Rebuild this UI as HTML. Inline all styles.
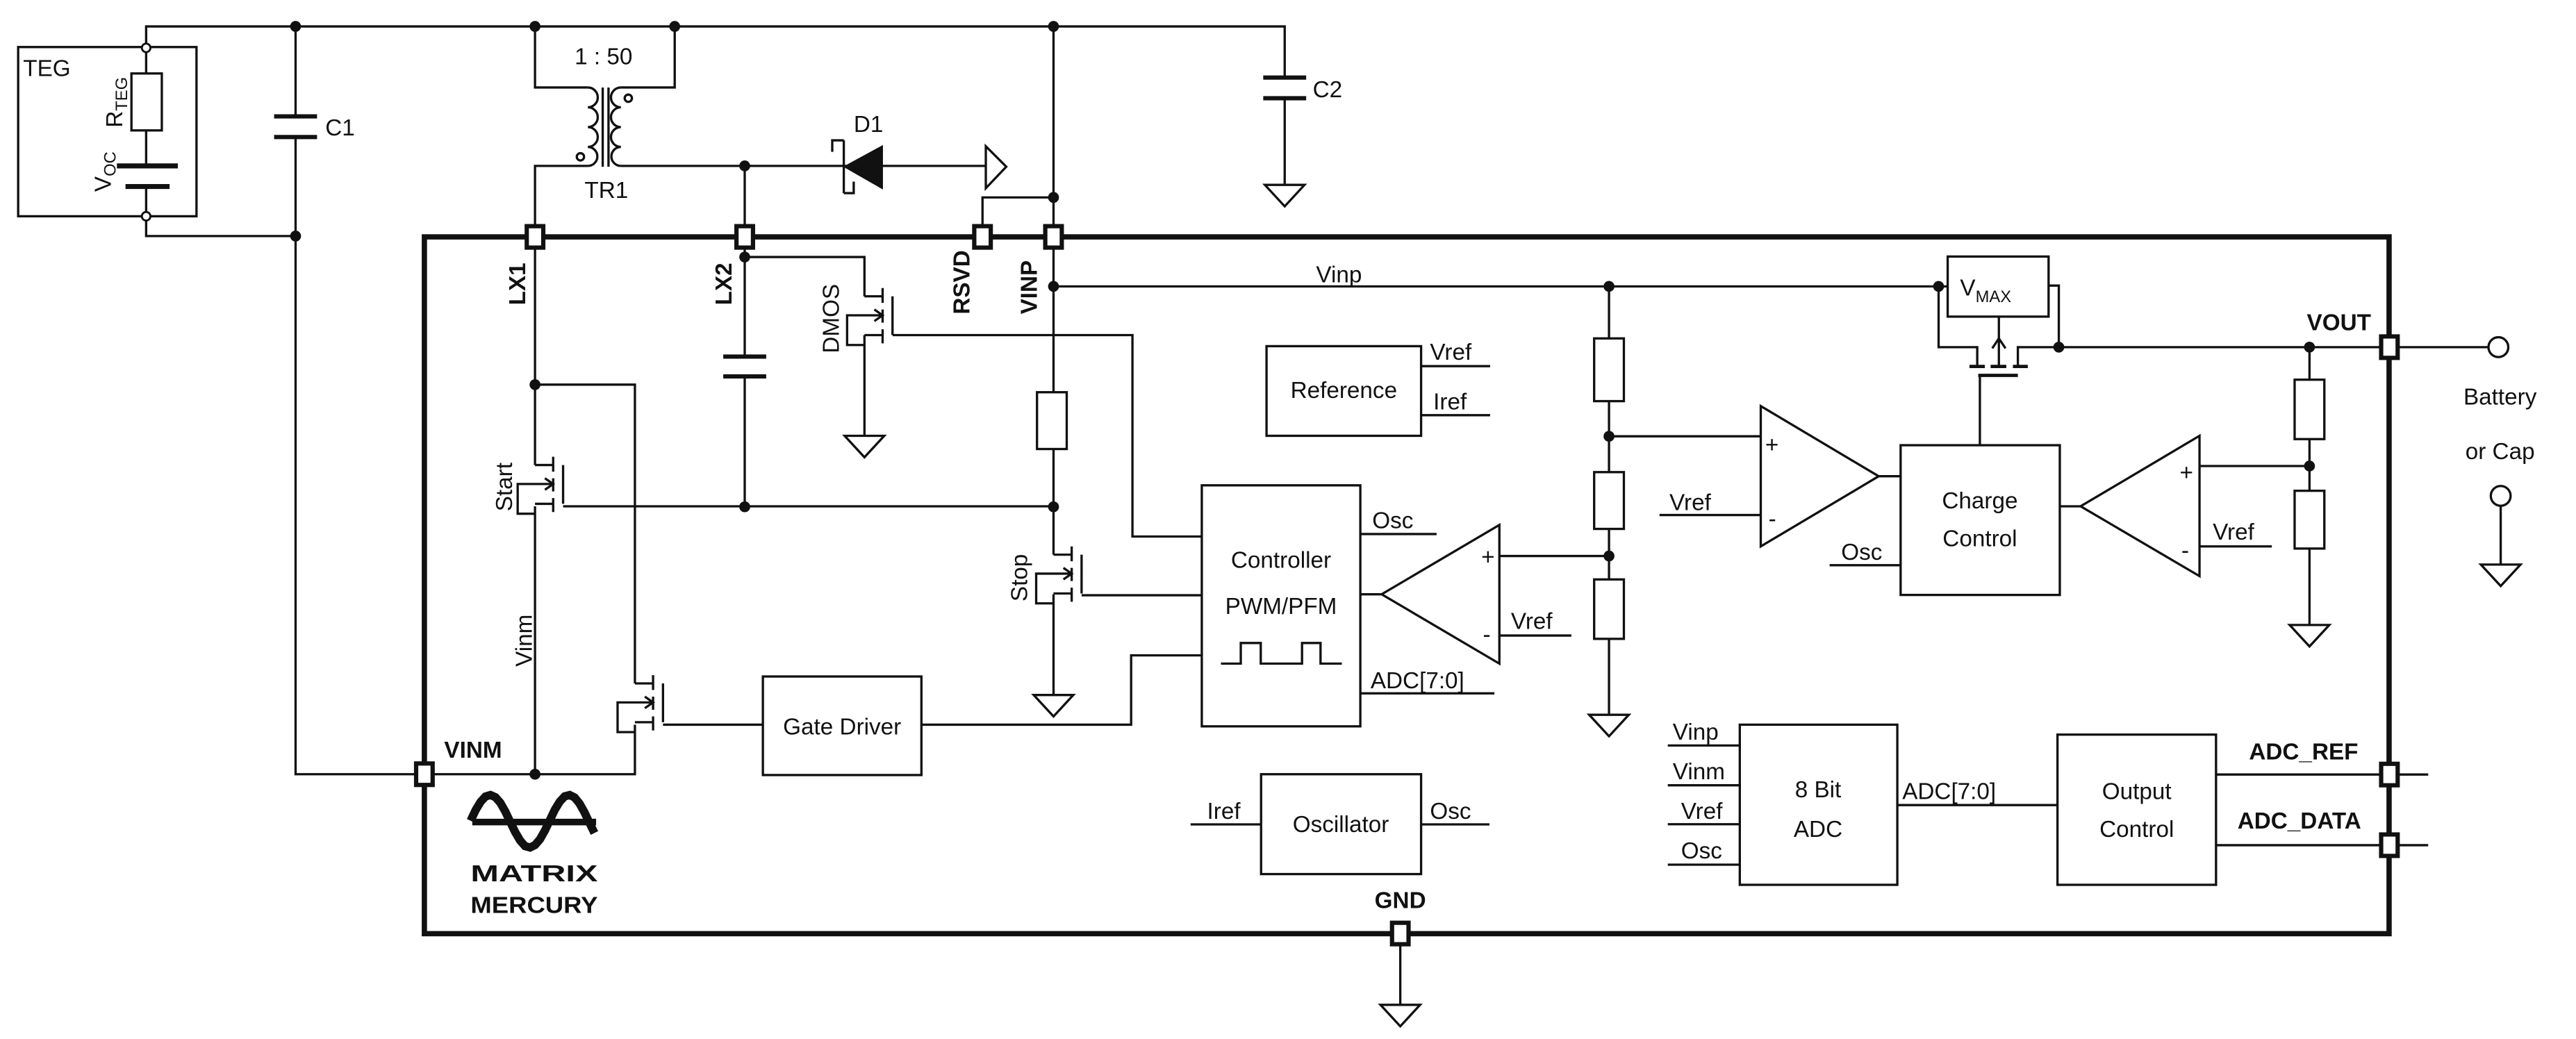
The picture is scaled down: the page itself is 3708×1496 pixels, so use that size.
<!DOCTYPE html>
<html><head><meta charset="utf-8"><style>
html,body{margin:0;padding:0;background:#fff;}
svg{display:block;}
text{font-family:"Liberation Sans",Arial,sans-serif;font-size:14px;fill:#111;}
.b{font-weight:bold;}
</style></head><body>
<svg width="3708" height="1496" viewBox="0 0 1560 629.4" preserveAspectRatio="none" xmlns="http://www.w3.org/2000/svg">
<defs>
<g id="nmos" fill="none" stroke="#111" stroke-width="1.4">
<path d="M0,0 H11 M11,-5 V4 M11,8 V16 M11,20 V28.5 M11,23.5 H0 M11,11.5 H-10.5 V29.5 H0 M6,8 L11,11.5 L6,15 M17,0 V23.5"/>
</g>
<g id="gnd" fill="#fff" stroke="#111" stroke-width="1.4"><path d="M-12,0 H12 L0,13 Z"/></g>
</defs>
<g fill="none" stroke="#111" stroke-width="1.4">
<path d="M88.5,29 V16 H778 V47"/>
<path d="M778,59.5 V112"/>
<path d="M765,47 H791 M765,59.5 H791" stroke-width="2.6"/>
<rect x="11" y="28.5" width="108" height="102.5"/>
<path d="M88.5,29 V44.5 M88.5,79 V100.5 M88.5,113 V131 M88.5,131 V143 H179"/>
<rect x="79.6" y="44.5" width="18.4" height="34.5" fill="#fff"/>
<path d="M70.8,100.5 H107.7 M76,113 H102.7" stroke-width="3"/>
<path d="M179,16 V70.5 M179,83 V469 H257"/>
<path d="M166,70.5 H192 M166,83 H192" stroke-width="2.6"/>
<path d="M324,16 V53 H356 M324,143 V100.5 H356 M408.6,16 V53 H376 M376,100.5 H597"/>
<path d="M356,53 a6,6 0 0 1 0,12 a6,6 0 0 1 0,12 a6,6 0 0 1 0,12 a5.75,5.75 0 0 1 0,11.5"/>
<path d="M376,53 a6,6 0 0 0 0,12 a6,6 0 0 0 0,12 a6,6 0 0 0 0,12 a5.75,5.75 0 0 0 0,11.5"/>
<path d="M365,53 V101 M368.5,53 V101"/>
<circle cx="380.5" cy="59.5" r="2.2"/><circle cx="351.5" cy="95" r="2.2"/>
<path d="M511,85 V117 M511,85 H504 V92 M511,117 H517 V110"/>
<path d="M512,101 L534,89 V113.6 Z" fill="#111"/>
<path d="M597,88.6 L609.4,101 L597,114 Z" fill="#fff"/>
<path d="M638,16 V237.6 M638,272 V336 M638,360 V421 M638,119.6 H595 V143"/>
<rect x="628" y="237.6" width="18" height="34.4" fill="#fff"/>
<path d="M638,173.5 H1174 M1174,173.5 H1179.5"/>
<path d="M451,100.5 V216 M451,228 V307 M451,155.7 H523.5 V179.5"/>
<path d="M438,216 H464 M438,228 H464" stroke-width="2.6"/>
<path d="M523.5,203 V264 M540.6,203 H685.8 V325 H727.8"/>
<path d="M324,143 V281.7 M324,306.7 V469 M341,306.7 H638"/>
<path d="M324,233 H384.5 V414 M384.5,439 V469 H257 M401.5,439 H462"/>
<path d="M558,439 H685 V397 H727.8 M655,360.6 H727.8"/>
<rect x="462" y="409.8" width="96" height="59.7"/>
<rect x="727.8" y="294" width="96" height="146"/>
<path d="M739.4,402 H751.4 V389.5 H763.5 V402 H788.5 V389.5 H799.7 V402 H812.6"/>
<path d="M823.9,323.5 H870 M823.9,420 H905 M823.9,360 H836.7"/>
<path d="M836.7,360 L908,318 V402 Z"/>
<path d="M908,336.8 H974.4 M908,385 H951.6"/>
<path d="M974.4,173.5 V205 M974.4,243 V286 M974.4,320.4 V351 M974.4,387 V433 M974.4,264.3 H1066.3"/>
<rect x="965.4" y="205" width="18" height="38" fill="#fff"/>
<rect x="965.4" y="286" width="18" height="34.4" fill="#fff"/>
<rect x="965.4" y="351" width="18" height="36" fill="#fff"/>
<rect x="767" y="209.7" width="93.6" height="54.3"/>
<path d="M860.6,221.8 H902.4 M860.6,251.5 H902.4"/>
<path d="M1137.7,288.5 L1066.3,246 V331 Z"/>
<path d="M1005,312 H1066.3 M1137.7,288.5 H1151 M1108,342.4 H1151"/>
<rect x="1151" y="269.7" width="96.4" height="90.7"/>
<path d="M1260,306.7 L1332,264 V349 Z"/>
<path d="M1247.4,306.7 H1260 M1332,282.3 H1398.6 M1332,331 H1375.8"/>
<rect x="1179.5" y="155.4" width="61.1" height="36.4"/>
<path d="M1174,173.5 V210.3 H1197.4 V222 M1240.6,173 H1246.8 V210.3 M1222,222 V210.3 H1444 M1210.5,191.8 V222 M1206.5,211 L1210.5,205 L1214.5,211"/>
<path d="M1192.7,222 H1202 M1205.5,222 H1215 M1219,222 H1228 M1198,227.4 H1222" stroke-width="2"/>
<path d="M1199,227.4 V269.7"/>
<path d="M1398.6,210.3 V230 M1398.6,266 V297.3 M1398.6,332.3 V378.6 M1444,210.3 H1507"/>
<rect x="1389.6" y="230" width="18" height="36" fill="#fff"/>
<rect x="1389.6" y="297.3" width="18" height="35" fill="#fff"/>
<circle cx="1513" cy="210.3" r="6" fill="#fff"/>
<circle cx="1514.4" cy="300.4" r="6" fill="#fff"/>
<path d="M1514.4,306.4 V342"/>
<rect x="1053.6" y="439" width="95.4" height="97"/>
<path d="M1010,451.6 H1053.6 M1010,475.7 H1053.6 M1010,499.3 H1053.6 M1010,523.8 H1053.6 M1149,487.7 H1246"/>
<rect x="1246" y="445" width="96" height="91"/>
<path d="M1342,469.2 H1470.5 M1342,512 H1470.5"/>
<rect x="763.7" y="469" width="96.9" height="60.5"/>
<path d="M721,499.4 H763.7 M860.6,499.4 H902"/>
<path d="M848,565.6 V608.7"/>
<rect x="257" y="143.5" width="1189.8" height="422.1" stroke-width="3.2"/>
<path d="M286,498 H361" stroke-width="4"/>
<polyline stroke-width="5" points="285,497.2 288,490.8 291,485.8 294,482.5 297,481.6 300,482.9 303,486.3 306,491.6 309,497.9 312,504.1 315,509.2 318,512.6 321,513.4 324,511.9 327,508.4 330,503.1 333,496.8 336,490.5 339,485.6 342,482.4 345,481.6 348,483.1 351,486.8 354,492.2 357,498.5 360,504.6"/>
</g>
<use href="#nmos" x="324" y="281.7"/>
<use href="#nmos" x="638" y="336"/>
<use href="#nmos" x="384.5" y="414"/>
<use href="#nmos" x="523.5" y="179.5"/>
<use href="#gnd" x="523.5" y="264"/>
<use href="#gnd" x="638" y="421"/>
<use href="#gnd" x="974.4" y="433"/>
<use href="#gnd" x="1398.6" y="378.6"/>
<use href="#gnd" x="1514.4" y="342"/>
<use href="#gnd" x="778" y="112"/>
<use href="#gnd" x="848" y="608.7"/>
<g fill="#111">
<circle cx="179" cy="16" r="3.3"/><circle cx="324" cy="16" r="3.3"/><circle cx="408.6" cy="16" r="3.3"/><circle cx="638" cy="16" r="3.3"/>
<circle cx="179" cy="143" r="3.3"/><circle cx="451" cy="100.5" r="3.3"/><circle cx="638" cy="119.6" r="3.3"/>
<circle cx="451" cy="155.7" r="3.3"/><circle cx="638" cy="173.5" r="3.3"/><circle cx="974.4" cy="173.5" r="3.3"/><circle cx="1174" cy="173.5" r="3.3"/>
<circle cx="324" cy="233" r="3.3"/><circle cx="451" cy="307" r="3.3"/><circle cx="638" cy="307" r="3.3"/>
<circle cx="974.4" cy="264.3" r="3.3"/><circle cx="974.4" cy="336.8" r="3.3"/><circle cx="1246.8" cy="210.3" r="3.3"/><circle cx="1398.6" cy="210.3" r="3.3"/><circle cx="1398.6" cy="282.3" r="3.3"/>
<circle cx="324" cy="469" r="3.3"/>
</g>
<g fill="#fff" stroke="#111" stroke-width="2.6">
<rect x="319" y="137" width="10" height="13"/><rect x="446" y="137" width="10" height="13"/>
<rect x="590" y="137" width="10" height="13"/><rect x="633" y="137" width="10" height="13"/>
<rect x="252" y="462.5" width="10" height="13"/><rect x="843" y="559" width="10" height="13"/>
<rect x="1442" y="203.8" width="10" height="13"/><rect x="1442" y="462.7" width="10" height="13"/><rect x="1442" y="505.5" width="10" height="13"/>
</g>
<g fill="none" stroke="#111" stroke-width="1.2">
<circle cx="88.5" cy="29" r="2.6" fill="#fff"/><circle cx="88.5" cy="131" r="2.6" fill="#fff"/>
</g>
<text x="14" y="46">TEG</text>
<text transform="translate(74,62) rotate(-90)" text-anchor="middle" font-size="14">R<tspan font-size="10" dy="3">TEG</tspan></text>
<text transform="translate(67,104) rotate(-90)" text-anchor="middle">V<tspan font-size="10" dy="3">OC</tspan></text>
<text x="197" y="82">C1</text>
<text x="348" y="39">1 : 50</text>
<text x="354" y="120">TR1</text>
<text x="517" y="80">D1</text>
<text x="795" y="59">C2</text>
<text class="b" transform="translate(318,172) rotate(-90)" text-anchor="middle" font-size="13">LX1</text>
<text class="b" transform="translate(443,172) rotate(-90)" text-anchor="middle" font-size="13">LX2</text>
<text class="b" transform="translate(587,171) rotate(-90)" text-anchor="middle" font-size="13">RSVD</text>
<text class="b" transform="translate(628,174) rotate(-90)" text-anchor="middle" font-size="13">VINP</text>
<text transform="translate(508,193) rotate(-90)" text-anchor="middle">DMOS</text>
<text transform="translate(310,295) rotate(-90)" text-anchor="middle">Start</text>
<text transform="translate(622,350) rotate(-90)" text-anchor="middle">Stop</text>
<text transform="translate(322,388) rotate(-90)" text-anchor="middle">Vinm</text>
<text x="797" y="171">Vinp</text>
<text x="813.8" y="241" text-anchor="middle">Reference</text>
<text x="866" y="218">Vref</text>
<text x="868" y="248">Iref</text>
<text x="775.8" y="344" text-anchor="middle">Controller</text>
<text x="775.8" y="372" text-anchor="middle">PWM/PFM</text>
<text x="831" y="320">Osc</text>
<text x="830" y="417">ADC[7:0]</text>
<text x="897" y="342" font-size="12">+</text>
<text x="898" y="389" font-size="12">-</text>
<text x="915" y="381">Vref</text>
<text x="510" y="445" text-anchor="middle">Gate Driver</text>
<text class="b" x="269" y="459" font-size="13">VINM</text>
<text x="1187" y="179" font-size="15">V<tspan font-size="10" dy="4">MAX</tspan></text>
<text x="1069" y="274" font-size="12">+</text>
<text x="1071" y="319" font-size="12">-</text>
<text x="1011" y="309">Vref</text>
<text x="1199" y="308" text-anchor="middle">Charge</text>
<text x="1199" y="331" text-anchor="middle">Control</text>
<text x="1115" y="339">Osc</text>
<text x="1320" y="291" font-size="12">+</text>
<text x="1321" y="338" font-size="12">-</text>
<text x="1340" y="327">Vref</text>
<text class="b" x="1397" y="200" font-size="13">VOUT</text>
<text x="1514" y="245" text-anchor="middle">Battery</text>
<text x="1514" y="278" text-anchor="middle">or Cap</text>
<text x="1013" y="448">Vinp</text>
<text x="1013" y="472">Vinm</text>
<text x="1018" y="496">Vref</text>
<text x="1018" y="520">Osc</text>
<text x="1101" y="483" text-anchor="middle">8 Bit</text>
<text x="1101" y="507" text-anchor="middle">ADC</text>
<text x="1152" y="484">ADC[7:0]</text>
<text x="1294" y="484" text-anchor="middle">Output</text>
<text x="1294" y="507" text-anchor="middle">Control</text>
<text class="b" x="1362" y="460" font-size="13">ADC_REF</text>
<text class="b" x="1355" y="502" font-size="13">ADC_DATA</text>
<text x="812" y="504" text-anchor="middle">Oscillator</text>
<text x="731" y="496">Iref</text>
<text x="866" y="496">Osc</text>
<text class="b" x="848" y="550" text-anchor="middle" font-size="13">GND</text>
<text class="b" x="285" y="534" font-size="19" textLength="77" lengthAdjust="spacingAndGlyphs">MATRIX</text>
<text class="b" x="285" y="553" font-size="15" textLength="77" lengthAdjust="spacingAndGlyphs">MERCURY</text>
</svg>
</body></html>
